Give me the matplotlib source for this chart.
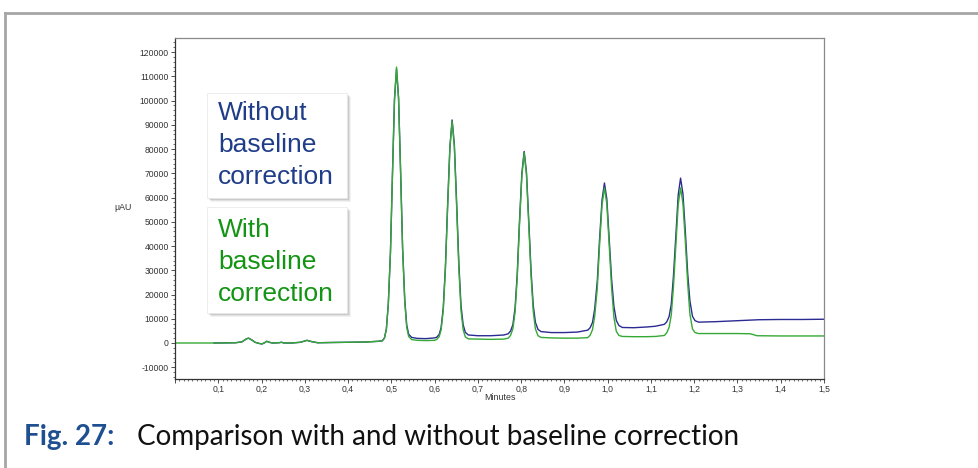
import matplotlib
matplotlib.use("Agg")
import matplotlib.pyplot as plt
from matplotlib.patches import Rectangle
from matplotlib.lines import Line2D
from matplotlib.ticker import MultipleLocator, FuncFormatter

# chromatogram traces (minutes, µAU)
t_blue = [0.09, 0.14, 0.155, 0.165, 0.17, 0.178, 0.185, 0.195, 0.201, 0.207, 0.212, 0.218, 0.225,
          0.24, 0.246, 0.252, 0.27, 0.29, 0.305, 0.315, 0.33, 0.36, 0.40, 0.44, 0.46, 0.47,
          0.479, 0.484, 0.4885, 0.493, 0.498, 0.5026, 0.5073, 0.512, 0.5167, 0.5214, 0.526, 0.531, 0.5355, 0.540, 0.547,
          0.56, 0.58, 0.60,
          0.605, 0.6105, 0.615, 0.620, 0.625, 0.630, 0.6354, 0.6405, 0.6456, 0.651, 0.656, 0.661, 0.666, 0.671, 0.678,
          0.70, 0.73, 0.76,
          0.770, 0.7755, 0.781, 0.786, 0.791, 0.796, 0.8017, 0.807, 0.8123, 0.8176, 0.823, 0.828, 0.833, 0.839, 0.846,
          0.87, 0.90, 0.93,
          0.954, 0.9595, 0.965, 0.970, 0.976, 0.981, 0.987, 0.9925, 0.998, 1.0035, 1.009, 1.0145, 1.020, 1.026, 1.034,
          1.06, 1.09, 1.11,
          1.131, 1.1365, 1.142, 1.147, 1.152, 1.158, 1.163, 1.1685, 1.174, 1.1795, 1.185, 1.190, 1.196, 1.202, 1.210,
          1.25, 1.30, 1.35, 1.40, 1.45, 1.50]
v_blue = [0, 100, 500, 1700, 2000, 1200, 300, -200, -400, 100, 700, 300, 0,
          100, 300, 0, 0, 300, 1100, 600, 100, 200, 300, 400, 600, 700,
          900, 2000, 5700, 16000, 37500, 69500, 100500, 113000, 101000, 71000, 39500, 18000, 7500, 3600, 2300,
          1900, 1800, 2100,
          2400, 3500, 6300, 14500, 31500, 56500, 81000, 92000, 82000, 57500, 33000, 15500, 7500, 4400, 3300,
          3000, 3000, 3300,
          3800, 4900, 7600, 14500, 28500, 49500, 70000, 79000, 70500, 50500, 29500, 15500, 8500, 5600, 4700,
          4300, 4300, 4500,
          5300, 6300, 8500, 14000, 25500, 42000, 59000, 66000, 59500, 43000, 26500, 15000, 9300, 7200, 6400,
          6300, 6600, 6900,
          7700, 8700, 10900, 16000, 27500, 45500, 61000, 68000, 61500, 46000, 28500, 17500, 11000, 9200, 8600,
          8800, 9200, 9600, 9700, 9700, 9800]

t_green = [0.0, 0.10, 0.14, 0.155, 0.165, 0.17, 0.178, 0.185, 0.195, 0.201, 0.207, 0.212, 0.218, 0.225,
           0.24, 0.246, 0.252, 0.27, 0.29, 0.305, 0.315, 0.33, 0.36, 0.40, 0.44, 0.46, 0.47,
           0.479, 0.484, 0.4885, 0.493, 0.498, 0.5026, 0.5073, 0.512, 0.5167, 0.5214, 0.526, 0.531, 0.5355, 0.540, 0.547,
           0.56, 0.58, 0.60,
           0.605, 0.6105, 0.615, 0.620, 0.625, 0.630, 0.6354, 0.6405, 0.6456, 0.651, 0.656, 0.661, 0.666, 0.671, 0.678,
           0.70, 0.73, 0.76,
           0.770, 0.7755, 0.781, 0.786, 0.791, 0.796, 0.8017, 0.807, 0.8123, 0.8176, 0.823, 0.828, 0.833, 0.839, 0.846,
           0.87, 0.90, 0.93,
           0.954, 0.9595, 0.965, 0.970, 0.976, 0.981, 0.987, 0.9925, 0.998, 1.0035, 1.009, 1.0145, 1.020, 1.026, 1.034,
           1.06, 1.09, 1.11,
           1.131, 1.1365, 1.142, 1.147, 1.152, 1.158, 1.163, 1.1685, 1.174, 1.1795, 1.185, 1.190, 1.196, 1.202, 1.210,
           1.25, 1.30, 1.33, 1.345, 1.40, 1.45, 1.50]
v_green = [0, 0, 100, 500, 1700, 2000, 1200, 300, -200, -400, 100, 700, 300, 0,
           100, 300, 0, 0, 300, 1100, 600, 100, 200, 300, 400, 600, 700,
           900, 2000, 5700, 16000, 37500, 69500, 100500, 113800, 101000, 70500, 39000, 17000, 6500, 2700, 1400,
           1100, 1000, 1100,
           1500, 2600, 5400, 13500, 30500, 55500, 80500, 91500, 81000, 56000, 31000, 13500, 5500, 2500, 1700,
           1600, 1500, 1600,
           2000, 3100, 5900, 12800, 27000, 48000, 69000, 78500, 69500, 49000, 27500, 13000, 5800, 3000, 2300,
           2100, 2000, 2000,
           2200, 3200, 5500, 11000, 22500, 39500, 57000, 64000, 57500, 40500, 23000, 10500, 4800, 3100, 2700,
           2600, 2600, 2700,
           3100, 4200, 6500, 11500, 23000, 41500, 57000, 64000, 57500, 42000, 24500, 12000, 5800, 4300, 3900,
           3900, 3900, 3800, 3000, 2900, 2900, 2900]

label_without = "Without\nbaseline\ncorrection"
label_with = "With\nbaseline\ncorrection"
fig_no = "Fig. 27:"
caption = "Comparison with and without baseline correction"

W, H = 979, 468
fig = plt.figure(figsize=(W / 100, H / 100), dpi=100)

def fx(px):
    return px / W

def fy(py):
    return 1 - py / H

# outer page frame (top and left rules)
fig.add_artist(Line2D([fx(5), 1.0], [fy(13), fy(13)], color="#a6a6a6", lw=2.0))
fig.add_artist(Line2D([fx(5), fx(5)], [fy(13), 0.0], color="#a6a6a6", lw=2.0))

ax = fig.add_axes([fx(175), fy(379), (824 - 175) / W, (379 - 38) / H])
ax.plot(t_blue, v_blue, color="#2b2b93", lw=1.0)
ax.plot(t_green, v_green, color="#35a835", lw=1.0)

ax.set_xlim(0, 1.5)
ax.set_ylim(-14850, 125800)
ax.xaxis.set_major_locator(MultipleLocator(0.1))
ax.xaxis.set_minor_locator(MultipleLocator(0.01))
ax.yaxis.set_major_locator(MultipleLocator(10000))
ax.yaxis.set_minor_locator(MultipleLocator(2000))
ax.xaxis.set_major_formatter(FuncFormatter(lambda v, p: "" if abs(v) < 1e-9 else f"{v:.1f}".replace(".", ",")))
ax.yaxis.set_major_formatter(FuncFormatter(lambda v, p: f"{v:.0f}"))
ax.tick_params(which="major", length=3, width=0.6, labelsize=6.2, pad=1.5, colors="#333333")
ax.tick_params(which="minor", length=1.5, width=0.5, colors="#333333")
for lab in ax.get_xticklabels() + ax.get_yticklabels():
    lab.set_family("Liberation Sans")
for s in ("left", "bottom"):
    ax.spines[s].set_color("#333333")
    ax.spines[s].set_linewidth(0.9)
for s in ("top", "right"):
    ax.spines[s].set_color("#8a8a8a")
    ax.spines[s].set_linewidth(0.9)

fig.text(fx(123), fy(207), "µAU", fontsize=6.4, family="Liberation Sans", ha="center", va="center", color="#333333")
fig.text(fx(500), fy(397), "Minutes", fontsize=6.4, family="Liberation Sans", ha="center", va="center", color="#333333")

# label boxes with soft shadows
for top, bottom in ((93, 198), (207, 313)):
    for off, a in ((4, 0.10), (3, 0.15), (2, 0.22)):
        fig.add_artist(Rectangle((fx(207 + off), fy(bottom + off)), (140) / W, (bottom - top) / H,
                                 transform=fig.transFigure, facecolor="#808080", alpha=a, edgecolor="none"))
    fig.add_artist(Rectangle((fx(207), fy(bottom)), 140 / W, (bottom - top) / H,
                             transform=fig.transFigure, facecolor="white", edgecolor="#e6e6e6", lw=0.5))

fig.text(fx(218), fy(101), label_without, fontsize=19, family="Liberation Sans", color="#1f3d88",
         ha="left", va="top", linespacing=1.41)
fig.text(fx(218), fy(218), label_with, fontsize=19, family="Liberation Sans", color="#149414",
         ha="left", va="top", linespacing=1.41)

fig.text(fx(24), fy(437), fig_no, fontsize=20, family="Lato", weight="bold", color="#1e4f91",
         ha="left", va="center")
fig.text(fx(137), fy(437), caption, fontsize=20, family="Lato", color="#111111",
         ha="left", va="center")

fig.savefig("out.png", dpi=100)
